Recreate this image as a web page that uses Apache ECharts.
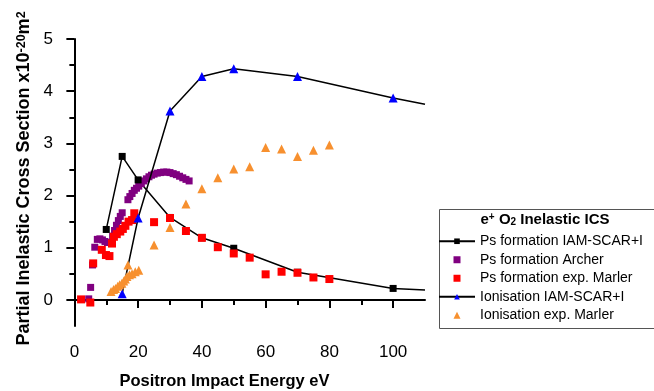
<!DOCTYPE html>
<html><head><meta charset="utf-8">
<script src="https://cdn.jsdelivr.net/npm/echarts@6/dist/echarts.min.js"></script>
<style>html,body{margin:0;padding:0;background:#fff}#c{width:654px;height:391px}</style>
</head><body><div id="c"></div>
<script>
// Ps formation IAM-SCAR+I (theory)
const psIamE = [10, 15, 20, 30, 40, 50, 70, 100, 110];
const psIamV = [1.35, 2.75, 2.30, 1.58, 1.19, 0.99, 0.53, 0.22, 0.19];
// Ps formation Archer
const archerE = [4.5, 5.1, 5.7, 6.4, 7.2, 8.0, 8.8, 9.6, 10.4, 11.2, 12.0, 12.6, 13.2, 13.8, 14.4, 15.0,
  16.8, 17.4, 18.1, 18.8, 19.5, 20.2, 21.0, 21.8, 22.6, 23.4, 24.2, 25.0, 26.0, 27.0, 28.0, 29.0, 30.0,
  31.0, 32.0, 33.0, 34.0, 35.0, 36.0];
const archerV = [0.02, 0.24, 0.67, 1.01, 1.16, 1.17, 1.15, 1.12, 1.10, 1.10, 1.22, 1.33, 1.43, 1.52, 1.60, 1.67,
  1.92, 1.98, 2.04, 2.10, 2.14, 2.18, 2.23, 2.28, 2.32, 2.36, 2.39, 2.41, 2.43, 2.44, 2.45, 2.45, 2.44,
  2.42, 2.40, 2.37, 2.34, 2.31, 2.28];
// Ps formation exp. Marler
const marlerPsE = [2.1, 5.0, 5.9, 8.6, 9.9, 11.0, 11.8, 12.4, 13.3, 14.4, 15.2, 16.0, 17.0, 18.1, 18.8,
  25, 30, 35, 40, 45, 50, 55, 60, 65, 70, 75, 80];
const marlerPsV = [0.01, -0.05, 0.70, 0.96, 0.86, 0.84, 1.08, 1.21, 1.26, 1.31, 1.36, 1.42, 1.50, 1.53, 1.66,
  1.49, 1.57, 1.32, 1.19, 1.01, 0.89, 0.81, 0.49, 0.54, 0.52, 0.43, 0.40];
// Ionisation IAM-SCAR+I (theory)
const ionIamE = [15, 20, 30, 40, 50, 70, 100, 110];
const ionIamV = [0.12, 1.57, 3.62, 4.28, 4.43, 4.28, 3.87, 3.75];
// Ionisation exp. Marler
const marlerIonE = [11.5, 12.3, 12.9, 13.6, 14.2, 14.9, 15.5, 16.0, 16.5, 16.8, 17.3, 18.1, 19.1, 20.2,
  25, 30, 35, 40, 45, 50, 55, 60, 65, 70, 75, 80];
const marlerIonV = [0.16, 0.20, 0.22, 0.26, 0.29, 0.32, 0.36, 0.40, 0.45, 0.67, 0.48, 0.50, 0.54, 0.57,
  1.05, 1.39, 1.84, 2.13, 2.34, 2.51, 2.55, 2.92, 2.89, 2.75, 2.87, 2.97];
// ticks
const xMajor = [0, 20, 40, 60, 80, 100];
const xMinor = [10, 30, 50, 70, 90];
const yMajor = [0, 1, 2, 3, 4, 5];
const yMinor = [0.5, 1.5, 2.5, 3.5, 4.5];

const zip = (a, b) => a.map((v, i) => [v, b[i]]);
// last point of theory curves is only the line end at the axis edge (no marker)
const lineData = (a, b) => zip(a, b).map((p, i, arr) =>
  i === arr.length - 1 ? { value: p, symbol: 'none' } : p);

const SQUARE = 'path://M0,0L10,0L10,10L0,10Z';
const TRI = 'path://M5,0L10,10L0,10Z';
const FONT = '"Liberation Sans", Arial, sans-serif';
const chart = echarts.init(document.getElementById('c'), null, { renderer: 'canvas' });
const axisLineStyle = { color: '#000', width: 2 };

chart.setOption({
  animation: false,
  backgroundColor: '#fff',
  grid: { left: 68, right: 229, top: 39, bottom: 65, containLabel: false, outerBoundsMode: 'none' },
  xAxis: [{
    type: 'value', min: -2, max: 110, position: 'bottom',
    name: 'Positron Impact Energy eV', nameLocation: 'middle', nameGap: 47,
    nameTextStyle: { fontFamily: FONT, fontSize: 16.5, fontWeight: 'bold', color: '#000', padding: [0, 44, 0, 0] },
    axisLine: { lineStyle: axisLineStyle },
    axisTick: { customValues: xMajor, length: 8, lineStyle: axisLineStyle },
    axisLabel: { customValues: xMajor, fontFamily: FONT, fontSize: 17, color: '#000', margin: 18 },
    splitLine: { show: false }
  }, {
    type: 'value', min: -2, max: 110, position: 'bottom', gridIndex: 0,
    axisLine: { show: false },
    axisTick: { customValues: xMinor, length: 5, lineStyle: axisLineStyle },
    axisLabel: { show: false }, splitLine: { show: false }
  }],
  yAxis: [{
    type: 'value', min: -0.5, max: 5, position: 'left',
    name: 'Partial Inelastic Cross Section x10{sup|-20}m{sup|2}', nameLocation: 'middle', nameGap: 32,
    nameTextStyle: {
      fontFamily: FONT, fontSize: 18, fontWeight: 'bold', color: '#000', padding: [0, 0, 0, 8],
      rich: { sup: { fontFamily: FONT, fontSize: 12.5, fontWeight: 'bold', color: '#000', verticalAlign: 'top' } }
    },
    axisLine: { lineStyle: axisLineStyle },
    axisTick: { customValues: yMajor, length: 8, lineStyle: axisLineStyle },
    axisLabel: { customValues: yMajor, fontFamily: FONT, fontSize: 17, color: '#000', margin: 15 },
    splitLine: { show: false }
  }, {
    type: 'value', min: -0.5, max: 5, position: 'left', gridIndex: 0,
    axisLine: { show: false },
    axisTick: { customValues: yMinor, length: 5, lineStyle: axisLineStyle },
    axisLabel: { show: false }, splitLine: { show: false }
  }],
  legend: {
    orient: 'vertical', left: 438, top: 232, padding: 0, itemGap: 0,
    itemWidth: 36, itemHeight: 7, selectedMode: false,
    textStyle: { fontFamily: FONT, fontSize: 14, color: '#000', lineHeight: 18.5 },
    data: [
      { name: 'Ps formation IAM-SCAR+I' },
      { name: 'Ps formation Archer', icon: SQUARE },
      { name: 'Ps formation exp. Marler', icon: SQUARE },
      { name: 'Ionisation IAM-SCAR+I' },
      { name: 'Ionisation exp. Marler', icon: TRI }
    ]
  },
  graphic: [{
    type: 'rect', left: 437, top: 207, z: 0,
    shape: { width: 240, height: 119 },
    style: { fill: 'none', stroke: '#555', lineWidth: 1 }
  }, {
    type: 'text', x: 545, y: 220,
    style: {
      text: '{b|e}{s|+}{b| O}{u|2}{b| Inelastic ICS}', align: 'center', verticalAlign: 'middle',
      rich: {
        b: { fontFamily: FONT, fontSize: 15, fontWeight: 'bold', fill: '#000' },
        s: { fontFamily: FONT, fontSize: 10, fontWeight: 'bold', fill: '#000', verticalAlign: 'top' },
        u: { fontFamily: FONT, fontSize: 10, fontWeight: 'bold', fill: '#000', verticalAlign: 'bottom' }
      }
    }
  }],
  series: [{
    name: 'Ps formation Archer', type: 'scatter', symbol: 'rect', symbolSize: 7, z: 2,
    itemStyle: { color: '#800080', opacity: 1 }, data: zip(archerE, archerV)
  }, {
    name: 'Ps formation IAM-SCAR+I', type: 'line', symbol: 'rect', symbolSize: 7, showAllSymbol: true, z: 2,
    itemStyle: { color: '#000' }, lineStyle: { color: '#000', width: 1.5 },
    data: lineData(psIamE, psIamV)
  }, {
    name: 'Ps formation exp. Marler', type: 'scatter', symbol: 'rect', symbolSize: 8, z: 3,
    itemStyle: { color: '#ff0000', opacity: 1 }, data: zip(marlerPsE, marlerPsV)
  }, {
    name: 'Ionisation IAM-SCAR+I', type: 'line', symbol: 'triangle', symbolSize: 9, showAllSymbol: true, z: 4,
    itemStyle: { color: '#0000ff' }, lineStyle: { color: '#000', width: 1.5 },
    data: lineData(ionIamE, ionIamV)
  }, {
    name: 'Ionisation exp. Marler', type: 'scatter', symbol: 'triangle', symbolSize: 9, z: 5,
    itemStyle: { color: '#f7902f', opacity: 1 }, data: zip(marlerIonE, marlerIonV)
  }]
});
</script>
</body></html>
